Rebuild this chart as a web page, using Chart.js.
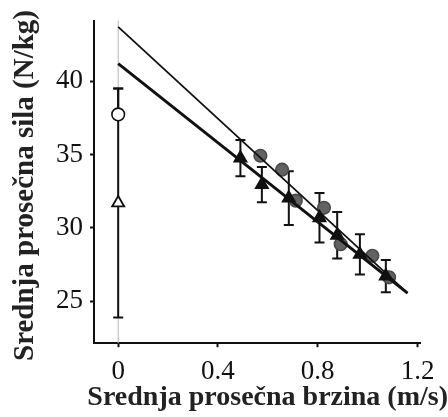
<!DOCTYPE html>
<html><head><meta charset="utf-8">
<script src="https://cdn.jsdelivr.net/npm/chart.js@4"></script>
<style>html,body{margin:0;padding:0;background:#fff}#wrap{width:448px;height:417px}</style>
</head><body><div id="wrap"><canvas id="c"></canvas></div>
<script>
const xTicks = [0, 0.4, 0.8, 1.2];
const yTicks = [25, 30, 35, 40];
const circleX = [0, 0.570, 0.657, 0.712, 0.825, 0.892, 1.019, 1.086];
const circleY = [37.74, 34.92, 33.97, 31.86, 31.37, 28.89, 28.10, 26.63];
const circleErrUp = [1.76, 0, 0, 0, 0, 0, 0, 0];
const circleErrDown = [0, 0, 0, 0, 0, 0, 0, 0];
const triX = [0, 0.490, 0.576, 0.684, 0.807, 0.878, 0.969, 1.073];
const triY = [31.7, 34.76, 32.95, 32.03, 30.69, 29.50, 28.19, 26.71];
const triErrUp = [7.8, 1.24, 1.2, 1.83, 1.69, 1.58, 1.37, 1.10];
const triErrDown = [7.8, 1.24, 1.2, 1.83, 1.69, 1.58, 1.37, 1.10];
const fitX = [0, 1.16];
const fitUpperY = [43.7, 25.55];
const fitLowerY = [41.2, 25.55];
const xRange = [-0.097, 1.21];
const yRange = [22.14, 44.14];
const xTitle = 'Srednja prosečna brzina (m/s)';
const yTitle = 'Srednja prosečna sila (N/kg)';

const FONT = 'Liberation Serif';
const INK = '#111';

const errorBars = {
  id: 'errorBars',
  beforeDatasetsDraw(chart) {
    const {ctx, chartArea, scales: {x, y}} = chart;
    ctx.save();
    const x0 = x.getPixelForValue(0);
    ctx.strokeStyle = '#b5b5b5'; ctx.lineWidth = 1;
    ctx.beginPath(); ctx.moveTo(x0, chartArea.top); ctx.lineTo(x0, chartArea.bottom); ctx.stroke();
    ctx.strokeStyle = INK; ctx.lineWidth = 2;
    const sets = [[circleX, circleY, circleErrUp, circleErrDown], [triX, triY, triErrUp, triErrDown]];
    for (const [xs, ys, up, dn] of sets) {
      xs.forEach((xv, i) => {
        if (!up[i] && !dn[i]) return;
        const px = x.getPixelForValue(xv);
        const top = y.getPixelForValue(ys[i] + up[i]);
        const bot = y.getPixelForValue(ys[i] - dn[i]);
        ctx.beginPath();
        ctx.moveTo(px, top); ctx.lineTo(px, bot);
        if (up[i]) { ctx.moveTo(px - 5, top); ctx.lineTo(px + 5, top); }
        if (dn[i]) { ctx.moveTo(px - 5, bot); ctx.lineTo(px + 5, bot); }
        ctx.stroke();
      });
    }
    ctx.restore();
  }
};

const pts = (xs, ys) => xs.map((v, i) => ({x: v, y: ys[i]}));
const hiddenScale = {display: true, border: {display: false}, grid: {display: false}, ticks: {display: false}};

new Chart(document.getElementById('c'), {
  type: 'scatter',
  data: {
    datasets: [
      {type: 'line', data: pts(fitX, fitUpperY), borderColor: INK, borderWidth: 1.8, pointRadius: 0, fill: false},
      {type: 'line', data: pts(fitX, fitLowerY), borderColor: INK, borderWidth: 3, pointRadius: 0, fill: false},
      {data: pts(triX, triY), pointStyle: 'triangle', pointRadius: 7,
       pointBackgroundColor: triX.map((v, i) => i === 0 ? '#fff' : INK),
       pointBorderColor: INK, pointBorderWidth: 1.8},
      {data: pts(circleX, circleY), pointStyle: 'circle', pointRadius: 6.3,
       pointBackgroundColor: circleX.map((v, i) => i === 0 ? '#fff' : '#626262'),
       pointBorderColor: circleX.map((v, i) => i === 0 ? INK : '#4a4a4a'), pointBorderWidth: 1.6}
    ]
  },
  options: {
    responsive: true, maintainAspectRatio: false, animation: false,
    layout: {padding: {top: 10, right: 0, left: 0, bottom: 0}},
    plugins: {
      legend: {display: false}, tooltip: {enabled: false},
      title: {display: true, position: 'left', align: 'end', fullSize: true, text: yTitle, color: '#222',
              font: {family: FONT, size: 29, weight: 'bold', lineHeight: 1.2}, padding: {top: 8, bottom: 0}},
      subtitle: {display: true, position: 'bottom', align: 'end', fullSize: true, text: xTitle, color: '#222',
                 font: {family: FONT, size: 28, weight: 'bold', lineHeight: 1.2}, padding: {top: 0, bottom: 2}}
    },
    scales: {
      x: {
        type: 'linear', min: xRange[0], max: xRange[1],
        afterBuildTicks(s) { s.ticks = xTicks.map(v => ({value: v})); },
        afterFit(s) { s.height = 38.2; },
        border: {display: true, color: INK, width: 2},
        grid: {drawOnChartArea: false, drawTicks: true, tickLength: 4, tickColor: INK, tickWidth: 2},
        ticks: {color: INK, font: {family: FONT, size: 27, lineHeight: 1.0}, padding: 11, maxRotation: 0, autoSkip: false, callback: v => String(v)}
      },
      y: {
        type: 'linear', min: yRange[0], max: yRange[1],
        afterBuildTicks(s) { s.ticks = yTicks.map(v => ({value: v})); },
        afterFit(s) { s.width = 51.2; },
        border: {display: true, color: INK, width: 2},
        grid: {drawOnChartArea: false, drawTicks: true, tickLength: 4, tickColor: INK, tickWidth: 2},
        ticks: {color: INK, font: {family: FONT, size: 27, lineHeight: 1.0}, padding: 7, autoSkip: false, callback: v => String(v)}
      },
      x2: Object.assign({type: 'linear', position: 'top', afterFit(s) { s.height = 8; }}, hiddenScale),
      y2: Object.assign({type: 'linear', position: 'right', afterFit(s) { s.width = 28; }}, hiddenScale)
    }
  },
  plugins: [errorBars]
});
</script>
</body></html>
